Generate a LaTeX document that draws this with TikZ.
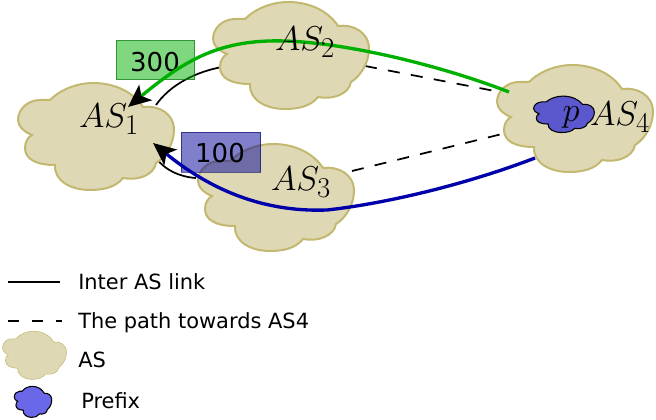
\documentclass[tikz,border=0pt]{standalone}
\usepackage[no-math]{fontspec}
\setmainfont{DejaVu Sans}
\usetikzlibrary{arrows.meta}
\definecolor{cloudfill}{HTML}{DED8B4}
\definecolor{cloudline}{HTML}{C2B870}
\tikzset{
  cloudpic/.pic={\path[pic actions] (-46,-37)
    .. controls (-35,-48) and (-18,-54) .. (-3,-54)
    .. controls (20,-54) and (38,-44) .. (47,-30)
    .. controls (62,-32) and (78,-24) .. (78,-7)
    .. controls (78,6) and (70,20) .. (60,26)
    .. controls (58,38) and (42,44) .. (27,41)
    .. controls (20,50) and (8,53) .. (-6,53)
    .. controls (-25,53) and (-42,44) .. (-41,28)
    .. controls (-60,28) and (-71,22) .. (-71,11)
    .. controls (-71,5) and (-68,0) .. (-64,-2)
    .. controls (-72,-5) and (-78,-11) .. (-78,-17)
    .. controls (-78,-28) and (-68,-37) .. (-56,-37)
    .. controls (-52,-37) and (-49,-37) .. (-46,-37) -- cycle;},
  ascloud/.style={draw=cloudline,fill=cloudfill,line width=1.5pt},
  legcloud/.style={draw=cloudline,fill=cloudfill,line width=0.4pt},
  prefcloud/.style={draw=black,fill=#1,line width=0.8pt},
  aslabel/.style={inner sep=0pt,scale=1.04,font=\fontsize{24.88}{28}\selectfont},
  value/.style={inner sep=0pt,font=\fontsize{19.5}{22}\selectfont},
  legtext/.style={anchor=west,inner sep=0pt,font=\fontsize{15.7}{20}\selectfont},
  link/.style={black,line width=1.3pt},
  pathlink/.style={black,line width=1.3pt,dash pattern=on 9pt off 8.5pt},
  route/.style={line width=2.5pt,-{Stealth[length=17pt,width=15pt,inset=4pt,color=black]}},
}
\definecolor{prefA}{HTML}{5A58CC}
\definecolor{prefB}{HTML}{6A68E8}
\definecolor{rgreen}{HTML}{00B000}
\definecolor{rblue}{HTML}{0000AA}
\begin{document}
\begin{tikzpicture}[x=0.75pt,y=-0.75pt]
\useasboundingbox (0,0) rectangle (656,420);
% endpoints
\coordinate (l12a) at (156,105);
\coordinate (l12b) at (222,67);
\coordinate (l13a) at (157,159);
\coordinate (l13b) at (196,178);
\coordinate (d24a) at (365,66);
\coordinate (d24b) at (500,92);
\coordinate (d34a) at (352,171);
\coordinate (d34b) at (502,134);
\coordinate (gs) at (509,92);
\coordinate (gm) at (285,41);
\coordinate (ge) at (128,107);
\coordinate (bs) at (535,158);
\coordinate (bm) at (327,210);
\coordinate (be) at (153,143);
\coordinate (la) at (8,282);
\coordinate (lb) at (60,282);
\coordinate (lc) at (8,321);
\coordinate (ld) at (62,321);
% links
\draw[link] (l12a) .. controls (170,85) and (195,72) .. (l12b);
\draw[link] (l13a) .. controls (165,170) and (180,177) .. (l13b);
\draw[pathlink] (d24a) -- (d24b);
\draw[pathlink] (d34a) -- (d34b);
% clouds
\pic[ascloud] at (96,137) {cloudpic};
\pic[ascloud] at (291,56) {cloudpic};
\pic[ascloud] at (276,198) {cloudpic};
\pic[ascloud] at (575,119) {cloudpic};
\pic[prefcloud=prefA,xscale=.39,yscale=.34] at (564,114.5) {cloudpic};
% value boxes
\node[draw=black!60!green,fill=green!70!black,fill opacity=.5,draw opacity=.6,minimum width=59pt,minimum height=29.5pt,inner sep=0pt,line width=.6pt] (box3) at (155.5,60) {};
\node[value] (t300) at (155,62) {300};
\node[draw=blue!40!black,fill=blue!60!black,fill opacity=.5,draw opacity=.6,minimum width=59.5pt,minimum height=30pt,inner sep=0pt,line width=.6pt] (box1) at (221,152) {};
\node[value] (t100) at (220,153) {100};
% routes
\draw[route,draw=rgreen] (gs) .. controls (445,67) and (350,43) .. (gm) .. controls (220,39) and (185,60) .. (ge);
\draw[route,draw=rblue] (bs) .. controls (470,183) and (390,203) .. (bm) .. controls (272,212) and (218,196) .. (be);
% labels
\node[aslabel] (as1) at (109,119) {$AS_1$};
\node[aslabel] (as2) at (305,42) {$AS_2$};
\node[aslabel] (as3) at (301,182) {$AS_3$};
\node[aslabel] (as4) at (620,117) {$AS_4$};
\node[aslabel] (pfx) at (571,117) {$p$};
% legend
\draw[link,line width=.9pt] (la) -- (lb);
\draw[pathlink,line width=.9pt,dash pattern=on 8.5pt off 9.5pt] (lc) -- (ld);
\pic[legcloud,xscale=.41,yscale=.45] at (34.5,355.5) {cloudpic};
\pic[prefcloud=prefB,xscale=.24,yscale=.29] at (33,402) {cloudpic};
\node[legtext] (t1) at (78,282) {Inter AS link};
\node[legtext] (t2) at (78,323) {The path towards AS4};
\node[legtext] (t3) at (78,360) {AS};
\node[legtext] (t4) at (81,401) {Prefix};
\end{tikzpicture}
\end{document}
